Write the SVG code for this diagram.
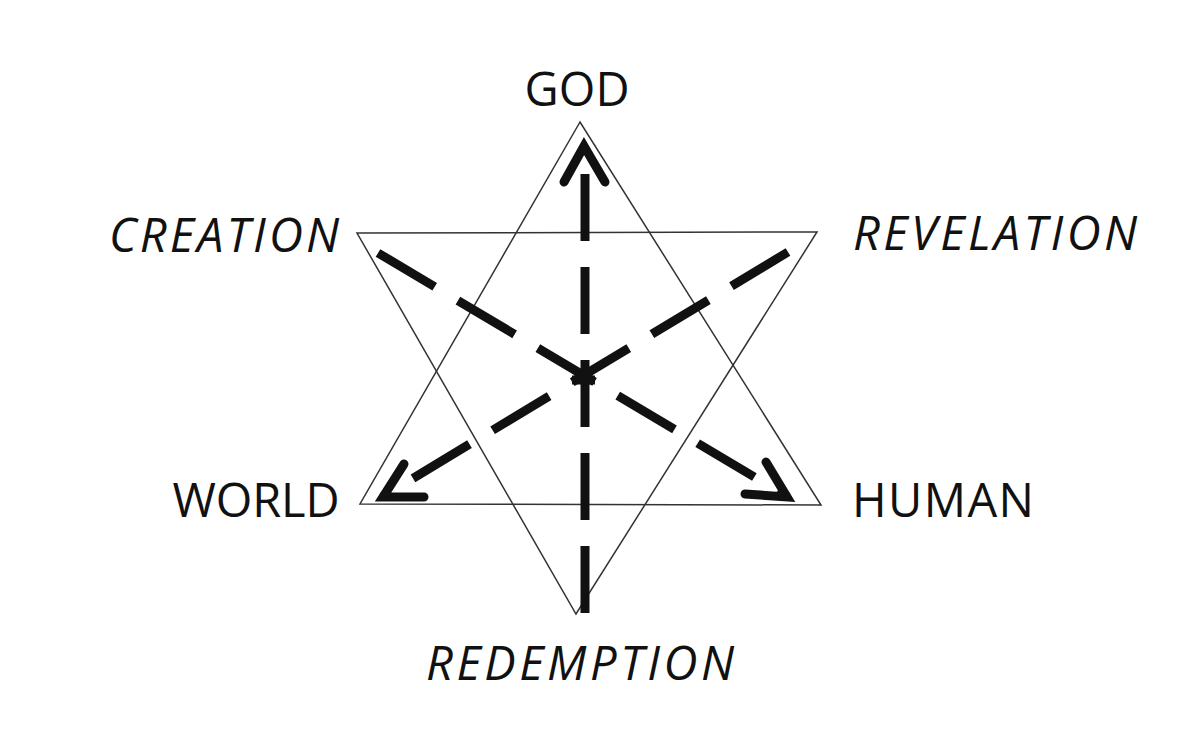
<svg xmlns="http://www.w3.org/2000/svg" width="1200" height="749" viewBox="0 0 1200 749">
<style>
.lbl{font-family:"Open Sans","Liberation Sans",sans-serif;font-size:47px;fill:#111;text-anchor:middle}
.it{font-style:italic}
.tri{fill:none;stroke:#333;stroke-width:1.5;stroke-linejoin:miter}
.dash{fill:none;stroke:#111;stroke-width:9;stroke-dasharray:66 27}
.head{fill:none;stroke:#111;stroke-width:9;stroke-linecap:round;stroke-linejoin:miter}
.bar{fill:none;stroke:#111;stroke-width:9}
</style>
<rect width="1200" height="749" fill="#fff"/>
<g id="triangle-up"><polygon class="tri" points="580,122 360,504 821,505"/></g>
<g id="triangle-down"><polygon class="tri" points="357,233 817,232 576,614"/></g>
<g id="connectors">
<line class="dash" x1="585" y1="613" x2="585" y2="170" style="stroke-dasharray:67 26"/>
<polyline class="head" points="564,182 584,146 605,182"/>
<line class="dash" x1="378" y1="253" x2="788" y2="497"/>
<polyline class="head" points="745,494 787,497 766,462"/>
<line class="dash" x1="788" y1="252" x2="382" y2="497"/>
<polyline class="head" points="404,464 383,497 424,497"/>
<line class="bar" x1="572" y1="380" x2="595" y2="380"/>
</g>
<g id="GOD"><text class="lbl" x="577" y="106" textLength="105" lengthAdjust="spacing">GOD</text></g>
<g id="CREATION"><text class="lbl it" x="224" y="252" textLength="230" lengthAdjust="spacing">CREATION</text></g>
<g id="REVELATION"><text class="lbl it" x="995" y="250" textLength="284" lengthAdjust="spacing">REVELATION</text></g>
<g id="WORLD"><text class="lbl" x="256" y="517" textLength="167" lengthAdjust="spacing">WORLD</text></g>
<g id="HUMAN"><text class="lbl" x="943" y="517" textLength="182" lengthAdjust="spacing">HUMAN</text></g>
<g id="REDEMPTION"><text class="lbl it" x="580" y="680" textLength="308" lengthAdjust="spacing">REDEMPTION</text></g>
</svg>
